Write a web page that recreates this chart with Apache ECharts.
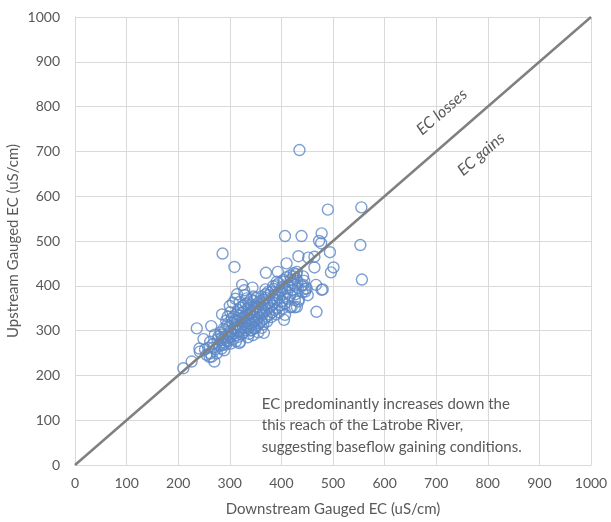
<!DOCTYPE html>
<html>
<head>
<meta charset="utf-8">
<script src="https://cdn.jsdelivr.net/npm/echarts@6/dist/echarts.min.js"></script>
<style>
  html, body { margin: 0; padding: 0; background: #fff; }
  #chart { width: 611px; height: 522px; }
</style>
</head>
<body>
<div id="chart"></div>
<script>
// downstream EC (x) vs upstream EC (y), uS/cm
const outerPoints = [
  [435, 703], [555, 575], [490, 570], [553, 491], [556, 414], [501, 441], [496, 430],
  [478, 517], [473, 500], [477, 495], [407, 511], [439, 511], [286, 472], [309, 442],
  [410, 450], [433, 466], [452, 463], [464, 465], [494, 475], [464, 441], [370, 429],
  [393, 431], [417, 423], [424, 428], [430, 431], [467, 402], [480, 392], [468, 342],
  [324, 402], [344, 396], [369, 392], [391, 409], [442, 402], [449, 394], [446, 387],
  [451, 379], [434, 370], [426, 352], [417, 352], [405, 324], [407, 335], [236, 305],
  [264, 310], [249, 281], [241, 260], [242, 253], [210, 216], [226, 231], [270, 231],
  [262, 249], [265, 242], [255, 246], [366, 295], [318, 272], [284, 260], [287, 268],
  [320, 275], [329, 379], [346, 376], [426, 368], [433, 365], [420, 353], [430, 353],
  [478, 391]
];
const lowerPoints = [
  [258, 262], [268, 270], [272, 258], [276, 280], [262, 275], [271, 291], [282, 296],
  [279, 268], [289, 256], [293, 269], [297, 284], [252, 258], [261, 241], [275, 249],
  [285, 285], [291, 301], [301, 299], [278, 287], [294, 277], [268, 262]
];
const corePoints = [
  [281, 266], [286, 279], [283, 291], [289, 273], [292, 287], [288, 304], [296, 276],
  [298, 292], [295, 312], [293, 322], [302, 271], [300, 286], [303, 297], [299, 309],
  [304, 327], [301, 341], [307, 281], [306, 293], [309, 306], [305, 318], [308, 331],
  [312, 276], [313, 290], [311, 301], [314, 313], [310, 323], [313, 336], [317, 286],
  [316, 299], [319, 308], [315, 321], [318, 334], [316, 346], [322, 291], [321, 303],
  [324, 313], [320, 326], [323, 339], [321, 351], [319, 364], [327, 296], [326, 306],
  [328, 319], [325, 329], [327, 341], [326, 356], [331, 301], [333, 311], [330, 322],
  [332, 333], [334, 345], [331, 360], [333, 372], [337, 293], [336, 306], [338, 316],
  [335, 326], [339, 338], [337, 351], [336, 363], [342, 301], [341, 313], [343, 323],
  [340, 336], [344, 346], [342, 358], [341, 369], [347, 306], [346, 319], [348, 331],
  [345, 341], [349, 353], [347, 366], [352, 311], [351, 323], [353, 336], [350, 348],
  [354, 361], [352, 373], [357, 316], [356, 329], [358, 341], [355, 353], [359, 366],
  [362, 306], [361, 321], [363, 335], [360, 349], [364, 361], [361, 376], [367, 326],
  [366, 341], [368, 356], [365, 369], [369, 381], [372, 331], [371, 346], [373, 359],
  [370, 373], [374, 386], [377, 336], [376, 351], [378, 363], [375, 379], [382, 341],
  [381, 356], [383, 371], [380, 386], [384, 399], [387, 346], [386, 363], [388, 379],
  [385, 393], [392, 351], [391, 369], [393, 383], [390, 401], [397, 356], [396, 373],
  [398, 389], [395, 406], [402, 349], [401, 366], [403, 381], [400, 396], [404, 413],
  [407, 361], [406, 376], [408, 393], [405, 409], [412, 371], [411, 386], [413, 401],
  [410, 419], [417, 379], [416, 396], [418, 413], [422, 391], [421, 406], [423, 421],
  [427, 381], [426, 401], [428, 416], [432, 396], [431, 411], [429, 426], [441, 386],
  [439, 401], [442, 421], [446, 393], [444, 411], [340, 300], [350, 305], [345, 290],
  [335, 285], [355, 296], [365, 314], [372, 320], [380, 330], [390, 336], [395, 341],
  [300, 355], [306, 362], [311, 371], [314, 381], [285, 336], [296, 331], [328, 390]
];
const equalLine = [[0, 0], [1000, 1000]];
const annotationLines = [
  'EC predominantly increases down the',
  'this reach of the Latrobe River,',
  'suggesting baseflow gaining conditions.'
];

const points = outerPoints.concat(lowerPoints, corePoints);
const textColor = '#595959';
const gridColor = '#d9d9d9';

const chart = echarts.init(document.getElementById('chart'));

const axisCommon = {
  type: 'value',
  min: 0,
  max: 1000,
  interval: 100,
  nameLocation: 'middle',
  nameMoveOverlap: false,
  nameTextStyle: { color: textColor, fontSize: 15, fontFamily: 'Lato' },
  axisLine: { show: true, lineStyle: { color: gridColor, width: 1 } },
  axisTick: { show: false },
  axisLabel: { color: textColor, fontSize: 14, fontFamily: 'Lato', formatter: v => String(v) },
  splitLine: { show: true, lineStyle: { color: gridColor, width: 1 } }
};

chart.setOption({
  animation: false,
  grid: { left: 75, right: 20, top: 17, bottom: 57, containLabel: false, outerBoundsMode: 'none' },
  xAxis: Object.assign({}, axisCommon, {
    name: 'Downstream Gauged EC (uS/cm)',
    nameGap: 37,
    axisLabel: Object.assign({}, axisCommon.axisLabel, { margin: 11 })
  }),
  yAxis: Object.assign({}, axisCommon, {
    name: 'Upstream Gauged EC (uS/cm)',
    nameGap: 54,
    axisLabel: Object.assign({}, axisCommon.axisLabel, { margin: 15 })
  }),
  series: [
    {
      type: 'line',
      data: equalLine,
      symbol: 'none',
      lineStyle: { color: '#808080', width: 2.5 },
      z: 3
    },
    {
      type: 'scatter',
      data: points,
      symbol: 'circle',
      symbolSize: 11,
      itemStyle: { color: 'rgba(255,255,255,0)', borderColor: '#5b87c6', borderWidth: 1.4 },
      z: 2
    }
  ]
});

// rotated labels placed along the 1:1 line
const p0 = chart.convertToPixel({ gridIndex: 0 }, [0, 0]);
const p1 = chart.convertToPixel({ gridIndex: 0 }, [1000, 1000]);
const angle = Math.atan2(p0[1] - p1[1], p1[0] - p0[0]);
const lossPos = chart.convertToPixel({ gridIndex: 0 }, [711, 788]);
const gainPos = chart.convertToPixel({ gridIndex: 0 }, [787, 694]);
const notePos = chart.convertToPixel({ gridIndex: 0 }, [362, 160]);

const italicStyle = {
  fill: textColor,
  fontSize: 16,
  fontStyle: 'italic',
  fontFamily: 'Lato',
  textAlign: 'center',
  textVerticalAlign: 'middle'
};

chart.setOption({
  graphic: [
    { type: 'text', x: lossPos[0], y: lossPos[1], rotation: angle,
      style: Object.assign({ text: 'EC losses' }, italicStyle) },
    { type: 'text', x: gainPos[0], y: gainPos[1], rotation: angle,
      style: Object.assign({ text: 'EC gains' }, italicStyle) },
    { type: 'text', x: notePos[0], y: notePos[1],
      style: {
        text: annotationLines.join('\n'),
        fill: textColor,
        fontSize: 15,
        fontFamily: 'Lato',
        lineHeight: 21.5,
        textAlign: 'left',
        textVerticalAlign: 'top'
      } }
  ]
});
</script>
</body>
</html>
